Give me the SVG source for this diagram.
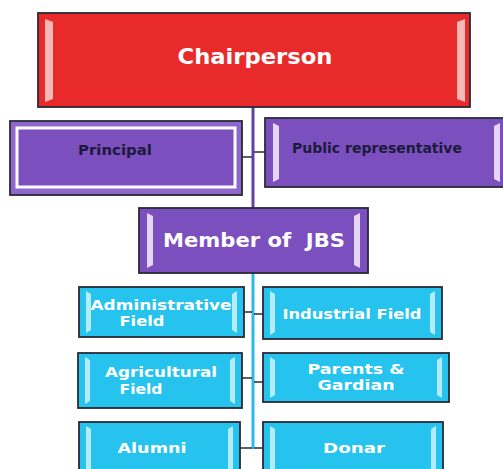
<svg xmlns="http://www.w3.org/2000/svg" width="503" height="469" viewBox="0 0 503 469">
<style>
.box{stroke:#2a2a35;stroke-width:1.8}
.red{fill:#e92a2b}
.pur{fill:#7b4fbe}
.cy{fill:#27c3ef}
.barR{fill:#f6b9b5}
.barP{fill:#e6d6f6}
.barC{fill:#b4ecfb}
.t{font-family:"DejaVu Sans","Liberation Sans",sans-serif;font-weight:bold;text-anchor:middle;white-space:pre}
.w{fill:#ffffff}
.d{fill:#1c1a3a}
.stub{stroke:#2a2a35;stroke-width:1.5;fill:none}
</style>
<rect width="503" height="469" fill="#ffffff"/>
<g id="connectors">
<line x1="253" y1="107" x2="253" y2="208" stroke="#5e43a6" stroke-width="3"/>
<line x1="253" y1="273" x2="253" y2="449" stroke="#2ab9e8" stroke-width="3"/>
<line class="stub" x1="242" y1="157" x2="252" y2="157"/>
<line class="stub" x1="254" y1="152" x2="265" y2="152"/>
<line class="stub" x1="245" y1="312" x2="252" y2="312"/>
<line class="stub" x1="254" y1="314" x2="263" y2="314"/>
<line class="stub" x1="242" y1="378" x2="252" y2="378"/>
<line class="stub" x1="254" y1="382" x2="263" y2="382"/>
<line class="stub" x1="240" y1="448" x2="252" y2="448"/>
<line class="stub" x1="254" y1="448" x2="263" y2="448"/>
</g>
<g id="chairperson">
<rect class="box red" x="38" y="13" width="432" height="94"/>
<path class="barR" d="M45 19 L53 22 L53 99 L45 102 Z"/>
<path class="barR" d="M465 19 L457 22 L457 99 L465 102 Z"/>
<text class="t w" x="255" y="64" font-size="21" textLength="155" lengthAdjust="spacingAndGlyphs">Chairperson</text>
</g>
<g id="principal">
<rect class="box" x="10" y="121" width="232" height="74" fill="#8e67cc"/>
<rect x="17" y="128" width="218" height="59" fill="#7b4fbe" stroke="#ffffff" stroke-width="3"/>
<text class="t d" x="115" y="155" font-size="14" textLength="74" lengthAdjust="spacingAndGlyphs">Principal</text>
</g>
<g id="public-representative">
<rect class="box pur" x="265" y="118" width="245" height="69"/>
<path class="barP" d="M273 123 L279 126 L279 179 L273 182 Z"/>
<path class="barP" d="M500 123 L494 126 L494 179 L500 182 Z"/>
<text class="t d" x="377" y="153" font-size="14" textLength="170" lengthAdjust="spacingAndGlyphs">Public representative</text>
</g>
<g id="member-of-jbs">
<rect class="box pur" x="139" y="208" width="229" height="65"/>
<path class="barP" d="M147 213 L153 216 L153 265 L147 268 Z"/>
<path class="barP" d="M360 213 L354 216 L354 265 L360 268 Z"/>
<text class="t w" x="254" y="247" font-size="19" textLength="182" lengthAdjust="spacingAndGlyphs" xml:space="preserve">Member of  JBS</text>
</g>
<g id="administrative-field">
<rect class="box cy" x="79" y="287" width="165" height="50"/>
<path class="barC" d="M86 291 L91 294 L91 330 L86 333 Z"/>
<path class="barC" d="M237 291 L232 294 L232 330 L237 333 Z"/>
<text class="t w" x="161" y="310" font-size="14" textLength="141" lengthAdjust="spacingAndGlyphs">Administrative</text>
<text class="t w" x="142" y="326" font-size="14" textLength="45" lengthAdjust="spacingAndGlyphs">Field</text>
</g>
<g id="industrial-field">
<rect class="box cy" x="263" y="287" width="179" height="52"/>
<path class="barC" d="M270 291 L275 294 L275 332 L270 335 Z"/>
<path class="barC" d="M435 291 L430 294 L430 332 L435 335 Z"/>
<text class="t w" x="352" y="319" font-size="14" textLength="139" lengthAdjust="spacingAndGlyphs">Industrial Field</text>
</g>
<g id="agricultural-field">
<rect class="box cy" x="78" y="353" width="164" height="55"/>
<path class="barC" d="M85 357 L90 360 L90 401 L85 404 Z"/>
<path class="barC" d="M235 357 L230 360 L230 401 L235 404 Z"/>
<text class="t w" x="161" y="377" font-size="14" textLength="112" lengthAdjust="spacingAndGlyphs">Agricultural</text>
<text class="t w" x="141" y="394" font-size="14" textLength="43" lengthAdjust="spacingAndGlyphs">Field</text>
</g>
<g id="parents-gardian">
<rect class="box cy" x="263" y="353" width="186" height="49"/>
<path class="barC" d="M270 357 L275 360 L275 395 L270 398 Z"/>
<path class="barC" d="M442 357 L437 360 L437 395 L442 398 Z"/>
<text class="t w" x="356" y="374" font-size="14" textLength="97" lengthAdjust="spacingAndGlyphs">Parents &amp;</text>
<text class="t w" x="356" y="390" font-size="14" textLength="77" lengthAdjust="spacingAndGlyphs">Gardian</text>
</g>
<g id="alumni">
<rect class="box cy" x="79" y="422" width="161" height="60"/>
<path class="barC" d="M86 426 L91 429 L91 475 L86 478 Z"/>
<path class="barC" d="M233 426 L228 429 L228 475 L233 478 Z"/>
<text class="t w" x="152" y="453" font-size="14" textLength="69" lengthAdjust="spacingAndGlyphs">Alumni</text>
</g>
<g id="donar">
<rect class="box cy" x="263" y="422" width="180" height="60"/>
<path class="barC" d="M270 426 L275 429 L275 475 L270 478 Z"/>
<path class="barC" d="M436 426 L431 429 L431 475 L436 478 Z"/>
<text class="t w" x="354" y="453" font-size="14" textLength="62" lengthAdjust="spacingAndGlyphs">Donar</text>
</g>
</svg>
